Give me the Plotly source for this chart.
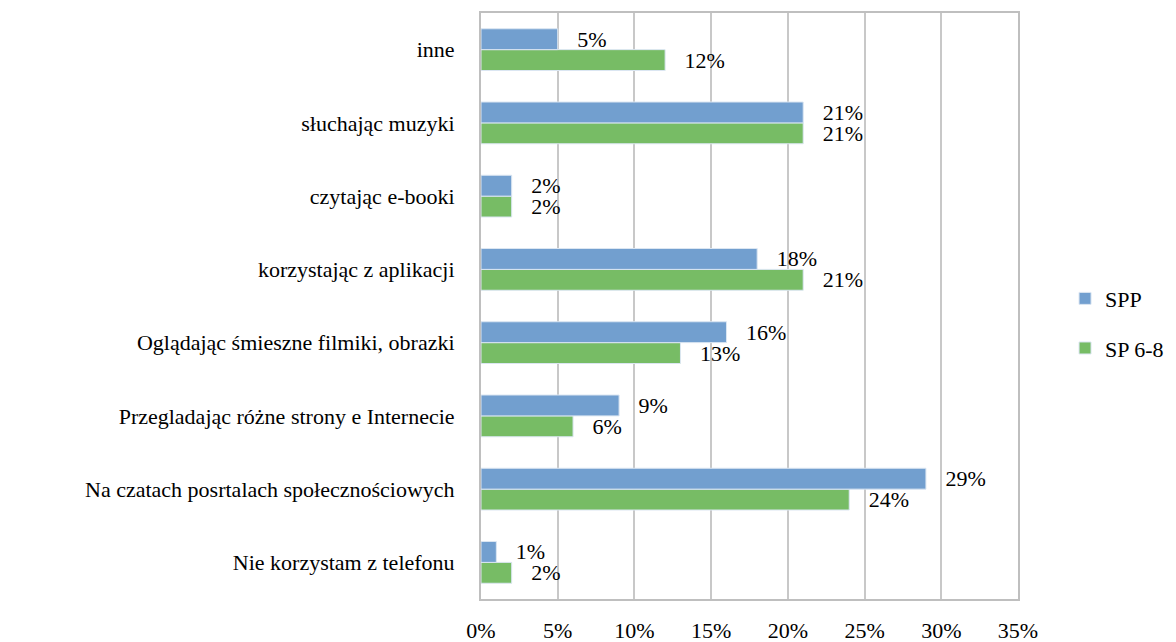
import plotly.graph_objects as go

# categories listed bottom -> top
categories = [
    "Nie korzystam z telefonu",
    "Na czatach posrtalach społecznościowych",
    "Przegladając różne strony e Internecie",
    "Oglądając śmieszne filmiki, obrazki",
    "korzystając z aplikacji",
    "czytając e-booki",
    "słuchając muzyki",
    "inne",
]
spp = [0.01, 0.29, 0.09, 0.16, 0.18, 0.02, 0.21, 0.05]
sp68 = [0.02, 0.24, 0.06, 0.13, 0.21, 0.02, 0.21, 0.12]
x_ticks = [0, 0.05, 0.10, 0.15, 0.20, 0.25, 0.30, 0.35]

FONT = "Liberation Serif, Liberation Sans, sans-serif"
PAD = "\u00a0\u00a0\u00a0"

fig = go.Figure()
# SP 6-8 first so it sits below SPP within each group
for name, vals, color, rank in [("SP 6-8", sp68, "#77bc65", 2), ("SPP", spp, "#729fcf", 1)]:
    fig.add_trace(go.Bar(
        y=categories, x=vals, orientation="h", name=name,
        legendgroup=name, legendrank=rank,
        marker=dict(color=color, line=dict(color="#dbe6f2", width=1)),
        texttemplate=PAD + "%{x:.0%}", textposition="outside",
        constraintext="none", cliponaxis=False,
        textfont=dict(family=FONT, size=22, color="black"),
    ))

# page body has an 8px margin, so the figure is sized/placed to compensate
fig.update_layout(
    barmode="group", bargap=0.43, bargroupgap=0,
    width=1168, height=634,
    paper_bgcolor="white", plot_bgcolor="white",
    margin=dict(l=473, r=158, t=5, b=43, autoexpand=False),
    font=dict(family=FONT, size=22, color="black"),
    legend=dict(xref="container", x=0.905, xanchor="left",
                y=0.47, yanchor="middle", tracegroupgap=18,
                traceorder="grouped", font=dict(family=FONT, size=22),
                itemwidth=30),
    showlegend=True,
)
fig.update_xaxes(range=[0, 0.35], tickvals=x_ticks, tickformat=".0%",
                 showgrid=True, gridcolor="#c8c8c8", gridwidth=1.5,
                 showline=True, linecolor="#bfbfbf", linewidth=2, mirror=True,
                 zeroline=False, ticks="", ticklabelstandoff=11, automargin=False)
fig.update_yaxes(showgrid=False, showline=True, linecolor="#bfbfbf", linewidth=2,
                 mirror=True, ticks="", ticklabelstandoff=20, automargin=False)

fig.write_html("out.html")
